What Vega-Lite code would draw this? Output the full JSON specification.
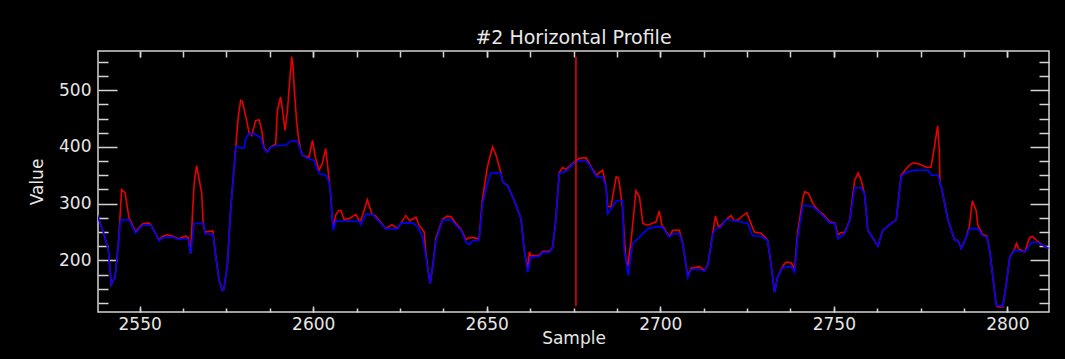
{
  "$schema": "https://vega.github.io/schema/vega-lite/v6.json",
  "width": 951,
  "height": 261,
  "autosize": {"type": "none"},
  "padding": {"left": 98, "top": 51, "right": 16, "bottom": 47},
  "background": "#000000",
  "title": {"text": "#2 Horizontal Profile", "frame": "group", "anchor": "middle", "offset": 2, "font": "DejaVu Sans", "fontSize": 19, "fontWeight": "normal", "color": "#e8e8e8"},
  "config": {
    "view": {"stroke": "#d4d4d4", "strokeWidth": 1.5},
    "axis": {"grid": false, "domain": false, "labelFont": "DejaVu Sans", "labelFontSize": 17, "labelColor": "#e6e6e6", "titleFont": "DejaVu Sans", "titleFontSize": 17, "titleFontWeight": "normal", "titleColor": "#e6e6e6", "tickColor": "#d4d4d4", "tickWidth": 1.5}
  },
  "datasets": {
    "red": [
      {"sample": 2537.8, "value": 280}, {"sample": 2539.7, "value": 247}, {"sample": 2541.0, "value": 218}, {"sample": 2541.8, "value": 157}, {"sample": 2542.9, "value": 170}, {"sample": 2543.5, "value": 206}, {"sample": 2544.0, "value": 240}, {"sample": 2544.8, "value": 325}, {"sample": 2545.8, "value": 319}, {"sample": 2546.9, "value": 276}, {"sample": 2548.8, "value": 250}, {"sample": 2550.8, "value": 264}, {"sample": 2552.5, "value": 266}, {"sample": 2553.2, "value": 263}, {"sample": 2554.6, "value": 247}, {"sample": 2555.6, "value": 236}, {"sample": 2556.5, "value": 242}, {"sample": 2558.0, "value": 245}, {"sample": 2559.4, "value": 243}, {"sample": 2561.3, "value": 238}, {"sample": 2563.3, "value": 243}, {"sample": 2564.0, "value": 240}, {"sample": 2564.7, "value": 212}, {"sample": 2565.2, "value": 280}, {"sample": 2565.7, "value": 335}, {"sample": 2566.4, "value": 367}, {"sample": 2567.9, "value": 318}, {"sample": 2568.3, "value": 265}, {"sample": 2568.8, "value": 250}, {"sample": 2571.1, "value": 252}, {"sample": 2571.7, "value": 218}, {"sample": 2572.9, "value": 165}, {"sample": 2573.8, "value": 147}, {"sample": 2574.3, "value": 149}, {"sample": 2575.3, "value": 194}, {"sample": 2576.2, "value": 288}, {"sample": 2577.7, "value": 400}, {"sample": 2578.4, "value": 453}, {"sample": 2579.1, "value": 482}, {"sample": 2579.6, "value": 480}, {"sample": 2580.6, "value": 453}, {"sample": 2581.5, "value": 426}, {"sample": 2582.3, "value": 420}, {"sample": 2583.4, "value": 446}, {"sample": 2584.4, "value": 448}, {"sample": 2585.2, "value": 429}, {"sample": 2585.8, "value": 400}, {"sample": 2586.8, "value": 391}, {"sample": 2587.8, "value": 400}, {"sample": 2589.2, "value": 405}, {"sample": 2589.7, "value": 465}, {"sample": 2590.6, "value": 488}, {"sample": 2591.1, "value": 468}, {"sample": 2591.9, "value": 429}, {"sample": 2592.6, "value": 465}, {"sample": 2593.1, "value": 506}, {"sample": 2593.8, "value": 559}, {"sample": 2594.2, "value": 541}, {"sample": 2594.5, "value": 506}, {"sample": 2595.2, "value": 447}, {"sample": 2595.7, "value": 418}, {"sample": 2596.4, "value": 394}, {"sample": 2596.9, "value": 385}, {"sample": 2598.3, "value": 382}, {"sample": 2598.8, "value": 382}, {"sample": 2599.8, "value": 412}, {"sample": 2600.6, "value": 382}, {"sample": 2601.7, "value": 359}, {"sample": 2602.6, "value": 370}, {"sample": 2603.6, "value": 397}, {"sample": 2604.4, "value": 353}, {"sample": 2605.1, "value": 312}, {"sample": 2605.5, "value": 271}, {"sample": 2605.8, "value": 260}, {"sample": 2606.5, "value": 280}, {"sample": 2607.3, "value": 288}, {"sample": 2608.0, "value": 288}, {"sample": 2608.9, "value": 272}, {"sample": 2610.5, "value": 274}, {"sample": 2612.3, "value": 281}, {"sample": 2613.2, "value": 270}, {"sample": 2613.7, "value": 270}, {"sample": 2614.5, "value": 285}, {"sample": 2615.6, "value": 307}, {"sample": 2616.9, "value": 282}, {"sample": 2618.0, "value": 278}, {"sample": 2620.9, "value": 256}, {"sample": 2622.7, "value": 263}, {"sample": 2624.3, "value": 256}, {"sample": 2625.3, "value": 266}, {"sample": 2626.7, "value": 279}, {"sample": 2627.8, "value": 270}, {"sample": 2629.6, "value": 276}, {"sample": 2630.5, "value": 262}, {"sample": 2632.0, "value": 250}, {"sample": 2632.5, "value": 210}, {"sample": 2633.4, "value": 170}, {"sample": 2633.7, "value": 159}, {"sample": 2634.4, "value": 188}, {"sample": 2635.4, "value": 240}, {"sample": 2637.3, "value": 273}, {"sample": 2638.7, "value": 278}, {"sample": 2639.7, "value": 277}, {"sample": 2641.1, "value": 265}, {"sample": 2642.6, "value": 255}, {"sample": 2644.0, "value": 236}, {"sample": 2645.0, "value": 240}, {"sample": 2645.9, "value": 240}, {"sample": 2647.8, "value": 238}, {"sample": 2648.8, "value": 309}, {"sample": 2650.2, "value": 365}, {"sample": 2651.7, "value": 400}, {"sample": 2652.7, "value": 385}, {"sample": 2654.1, "value": 354}, {"sample": 2654.6, "value": 338}, {"sample": 2656.0, "value": 332}, {"sample": 2657.9, "value": 306}, {"sample": 2659.9, "value": 273}, {"sample": 2660.8, "value": 218}, {"sample": 2661.8, "value": 185}, {"sample": 2662.3, "value": 215}, {"sample": 2662.7, "value": 208}, {"sample": 2665.1, "value": 209}, {"sample": 2666.1, "value": 216}, {"sample": 2668.0, "value": 216}, {"sample": 2669.0, "value": 223}, {"sample": 2669.8, "value": 265}, {"sample": 2670.9, "value": 355}, {"sample": 2671.9, "value": 364}, {"sample": 2672.8, "value": 360}, {"sample": 2675.7, "value": 376}, {"sample": 2676.7, "value": 380}, {"sample": 2678.6, "value": 381}, {"sample": 2679.6, "value": 370}, {"sample": 2681.5, "value": 350}, {"sample": 2683.4, "value": 359}, {"sample": 2684.4, "value": 329}, {"sample": 2684.8, "value": 295}, {"sample": 2685.8, "value": 295}, {"sample": 2687.3, "value": 347}, {"sample": 2688.0, "value": 345}, {"sample": 2689.1, "value": 294}, {"sample": 2690.1, "value": 200}, {"sample": 2690.6, "value": 190}, {"sample": 2691.6, "value": 235}, {"sample": 2693.0, "value": 323}, {"sample": 2694.0, "value": 312}, {"sample": 2695.0, "value": 265}, {"sample": 2696.4, "value": 262}, {"sample": 2698.8, "value": 268}, {"sample": 2699.7, "value": 287}, {"sample": 2700.5, "value": 262}, {"sample": 2702.6, "value": 242}, {"sample": 2703.6, "value": 253}, {"sample": 2705.5, "value": 253}, {"sample": 2706.5, "value": 229}, {"sample": 2707.9, "value": 172}, {"sample": 2708.9, "value": 186}, {"sample": 2711.3, "value": 189}, {"sample": 2712.7, "value": 182}, {"sample": 2713.7, "value": 192}, {"sample": 2715.2, "value": 250}, {"sample": 2715.9, "value": 278}, {"sample": 2716.8, "value": 259}, {"sample": 2717.5, "value": 262}, {"sample": 2719.0, "value": 272}, {"sample": 2720.4, "value": 279}, {"sample": 2721.2, "value": 270}, {"sample": 2722.3, "value": 271}, {"sample": 2724.9, "value": 284}, {"sample": 2726.0, "value": 267}, {"sample": 2727.1, "value": 250}, {"sample": 2729.0, "value": 248}, {"sample": 2730.9, "value": 236}, {"sample": 2731.9, "value": 194}, {"sample": 2732.9, "value": 144}, {"sample": 2733.8, "value": 170}, {"sample": 2735.3, "value": 190}, {"sample": 2736.3, "value": 197}, {"sample": 2737.7, "value": 196}, {"sample": 2738.7, "value": 185}, {"sample": 2739.6, "value": 250}, {"sample": 2741.1, "value": 310}, {"sample": 2741.6, "value": 321}, {"sample": 2742.7, "value": 318}, {"sample": 2744.0, "value": 300}, {"sample": 2745.9, "value": 285}, {"sample": 2746.8, "value": 282}, {"sample": 2748.8, "value": 268}, {"sample": 2750.3, "value": 266}, {"sample": 2751.2, "value": 245}, {"sample": 2752.1, "value": 249}, {"sample": 2753.1, "value": 249}, {"sample": 2754.6, "value": 271}, {"sample": 2756.0, "value": 341}, {"sample": 2757.0, "value": 354}, {"sample": 2757.9, "value": 341}, {"sample": 2758.9, "value": 315}, {"sample": 2759.8, "value": 253}, {"sample": 2762.7, "value": 225}, {"sample": 2764.1, "value": 253}, {"sample": 2766.6, "value": 265}, {"sample": 2768.0, "value": 272}, {"sample": 2769.4, "value": 350}, {"sample": 2770.4, "value": 358}, {"sample": 2771.8, "value": 368}, {"sample": 2773.0, "value": 372}, {"sample": 2775.0, "value": 369}, {"sample": 2776.6, "value": 364}, {"sample": 2778.0, "value": 364}, {"sample": 2779.0, "value": 400}, {"sample": 2779.9, "value": 437}, {"sample": 2780.4, "value": 394}, {"sample": 2780.6, "value": 335}, {"sample": 2781.0, "value": 329}, {"sample": 2782.9, "value": 271}, {"sample": 2784.8, "value": 236}, {"sample": 2785.7, "value": 235}, {"sample": 2786.7, "value": 221}, {"sample": 2788.2, "value": 241}, {"sample": 2789.1, "value": 262}, {"sample": 2789.9, "value": 305}, {"sample": 2791.0, "value": 288}, {"sample": 2791.5, "value": 262}, {"sample": 2792.8, "value": 246}, {"sample": 2794.1, "value": 243}, {"sample": 2794.9, "value": 218}, {"sample": 2796.8, "value": 121}, {"sample": 2797.3, "value": 118}, {"sample": 2798.7, "value": 118}, {"sample": 2799.7, "value": 159}, {"sample": 2800.7, "value": 206}, {"sample": 2802.1, "value": 220}, {"sample": 2802.6, "value": 230}, {"sample": 2803.3, "value": 220}, {"sample": 2805.0, "value": 215}, {"sample": 2806.4, "value": 240}, {"sample": 2807.2, "value": 242}, {"sample": 2808.5, "value": 235}, {"sample": 2809.9, "value": 228}, {"sample": 2811.8, "value": 221}
    ],
    "blue": [
      {"sample": 2537.8, "value": 280}, {"sample": 2539.7, "value": 247}, {"sample": 2541.0, "value": 218}, {"sample": 2541.8, "value": 157}, {"sample": 2542.9, "value": 170}, {"sample": 2543.5, "value": 206}, {"sample": 2544.5, "value": 271}, {"sample": 2546.9, "value": 272}, {"sample": 2548.8, "value": 248}, {"sample": 2550.8, "value": 262}, {"sample": 2553.2, "value": 262}, {"sample": 2554.6, "value": 247}, {"sample": 2555.6, "value": 234}, {"sample": 2556.5, "value": 240}, {"sample": 2559.4, "value": 241}, {"sample": 2561.3, "value": 237}, {"sample": 2563.3, "value": 239}, {"sample": 2564.0, "value": 236}, {"sample": 2564.7, "value": 212}, {"sample": 2565.7, "value": 265}, {"sample": 2568.5, "value": 265}, {"sample": 2568.8, "value": 247}, {"sample": 2571.1, "value": 246}, {"sample": 2571.7, "value": 218}, {"sample": 2572.9, "value": 165}, {"sample": 2573.8, "value": 147}, {"sample": 2574.3, "value": 149}, {"sample": 2575.3, "value": 194}, {"sample": 2576.2, "value": 288}, {"sample": 2577.7, "value": 400}, {"sample": 2580.1, "value": 398}, {"sample": 2580.6, "value": 415}, {"sample": 2581.5, "value": 423}, {"sample": 2583.0, "value": 423}, {"sample": 2584.9, "value": 416}, {"sample": 2585.8, "value": 397}, {"sample": 2586.8, "value": 391}, {"sample": 2587.8, "value": 400}, {"sample": 2589.2, "value": 402}, {"sample": 2592.1, "value": 403}, {"sample": 2593.5, "value": 410}, {"sample": 2595.4, "value": 410}, {"sample": 2596.4, "value": 394}, {"sample": 2596.9, "value": 385}, {"sample": 2598.3, "value": 380}, {"sample": 2600.3, "value": 376}, {"sample": 2600.8, "value": 365}, {"sample": 2601.7, "value": 353}, {"sample": 2603.6, "value": 350}, {"sample": 2604.6, "value": 338}, {"sample": 2605.1, "value": 312}, {"sample": 2605.5, "value": 271}, {"sample": 2605.8, "value": 253}, {"sample": 2606.5, "value": 269}, {"sample": 2613.2, "value": 269}, {"sample": 2613.7, "value": 263}, {"sample": 2615.3, "value": 282}, {"sample": 2617.1, "value": 281}, {"sample": 2620.9, "value": 256}, {"sample": 2624.3, "value": 256}, {"sample": 2625.3, "value": 266}, {"sample": 2628.6, "value": 266}, {"sample": 2630.1, "value": 259}, {"sample": 2631.5, "value": 241}, {"sample": 2632.5, "value": 206}, {"sample": 2633.4, "value": 170}, {"sample": 2633.7, "value": 159}, {"sample": 2634.4, "value": 188}, {"sample": 2635.4, "value": 235}, {"sample": 2637.3, "value": 271}, {"sample": 2639.7, "value": 272}, {"sample": 2641.1, "value": 262}, {"sample": 2642.6, "value": 253}, {"sample": 2644.0, "value": 232}, {"sample": 2645.0, "value": 228}, {"sample": 2645.9, "value": 234}, {"sample": 2647.8, "value": 236}, {"sample": 2648.8, "value": 300}, {"sample": 2650.2, "value": 335}, {"sample": 2651.2, "value": 354}, {"sample": 2654.1, "value": 354}, {"sample": 2654.6, "value": 338}, {"sample": 2656.0, "value": 332}, {"sample": 2657.9, "value": 306}, {"sample": 2659.9, "value": 273}, {"sample": 2660.8, "value": 218}, {"sample": 2661.8, "value": 179}, {"sample": 2662.7, "value": 206}, {"sample": 2665.1, "value": 207}, {"sample": 2666.1, "value": 214}, {"sample": 2668.0, "value": 214}, {"sample": 2669.0, "value": 223}, {"sample": 2669.8, "value": 265}, {"sample": 2670.9, "value": 353}, {"sample": 2672.8, "value": 357}, {"sample": 2675.7, "value": 375}, {"sample": 2678.6, "value": 375}, {"sample": 2679.6, "value": 368}, {"sample": 2681.5, "value": 348}, {"sample": 2683.4, "value": 347}, {"sample": 2684.4, "value": 329}, {"sample": 2684.8, "value": 282}, {"sample": 2685.8, "value": 291}, {"sample": 2687.3, "value": 305}, {"sample": 2689.1, "value": 305}, {"sample": 2689.6, "value": 218}, {"sample": 2690.8, "value": 173}, {"sample": 2692.0, "value": 229}, {"sample": 2694.0, "value": 241}, {"sample": 2696.4, "value": 256}, {"sample": 2698.8, "value": 259}, {"sample": 2700.5, "value": 259}, {"sample": 2702.6, "value": 241}, {"sample": 2703.6, "value": 247}, {"sample": 2705.5, "value": 247}, {"sample": 2706.5, "value": 229}, {"sample": 2707.9, "value": 170}, {"sample": 2708.9, "value": 184}, {"sample": 2711.3, "value": 184}, {"sample": 2712.7, "value": 181}, {"sample": 2713.7, "value": 191}, {"sample": 2715.2, "value": 247}, {"sample": 2716.1, "value": 256}, {"sample": 2717.5, "value": 259}, {"sample": 2719.0, "value": 272}, {"sample": 2722.3, "value": 269}, {"sample": 2725.2, "value": 265}, {"sample": 2726.6, "value": 243}, {"sample": 2729.0, "value": 243}, {"sample": 2730.9, "value": 235}, {"sample": 2731.9, "value": 194}, {"sample": 2732.9, "value": 144}, {"sample": 2733.8, "value": 170}, {"sample": 2735.3, "value": 188}, {"sample": 2737.7, "value": 189}, {"sample": 2738.7, "value": 179}, {"sample": 2739.6, "value": 241}, {"sample": 2741.1, "value": 297}, {"sample": 2744.0, "value": 295}, {"sample": 2746.8, "value": 279}, {"sample": 2748.8, "value": 266}, {"sample": 2750.3, "value": 265}, {"sample": 2751.2, "value": 238}, {"sample": 2753.1, "value": 247}, {"sample": 2754.6, "value": 270}, {"sample": 2756.0, "value": 328}, {"sample": 2757.9, "value": 328}, {"sample": 2758.9, "value": 316}, {"sample": 2759.8, "value": 253}, {"sample": 2762.7, "value": 225}, {"sample": 2764.1, "value": 253}, {"sample": 2766.6, "value": 265}, {"sample": 2768.0, "value": 272}, {"sample": 2769.4, "value": 347}, {"sample": 2770.4, "value": 354}, {"sample": 2773.3, "value": 359}, {"sample": 2777.1, "value": 359}, {"sample": 2778.1, "value": 350}, {"sample": 2780.0, "value": 350}, {"sample": 2781.0, "value": 329}, {"sample": 2782.9, "value": 271}, {"sample": 2784.8, "value": 236}, {"sample": 2785.7, "value": 235}, {"sample": 2786.7, "value": 221}, {"sample": 2788.2, "value": 241}, {"sample": 2789.1, "value": 256}, {"sample": 2791.5, "value": 256}, {"sample": 2792.8, "value": 244}, {"sample": 2794.1, "value": 241}, {"sample": 2794.9, "value": 218}, {"sample": 2796.8, "value": 121}, {"sample": 2798.7, "value": 119}, {"sample": 2799.7, "value": 159}, {"sample": 2800.7, "value": 206}, {"sample": 2802.1, "value": 218}, {"sample": 2804.0, "value": 216}, {"sample": 2805.0, "value": 215}, {"sample": 2807.0, "value": 232}, {"sample": 2808.5, "value": 232}, {"sample": 2809.9, "value": 228}, {"sample": 2811.8, "value": 221}
    ],
    "cursor": [{"sample": 2675.7, "lo": 119, "hi": 559}]
  },
  "layer": [
    {
      "data": {"name": "red"},
      "mark": {"type": "line", "color": "#e80000", "strokeWidth": 1.6, "clip": true},
      "encoding": {
        "x": {"field": "sample", "type": "quantitative", "scale": {"domain": [2538, 2812], "nice": false, "zero": false},
              "axis": {"orient": "bottom", "values": [2550, 2600, 2650, 2700, 2750, 2800], "format": "d", "ticks": false, "labelPadding": 4, "title": "Sample", "titlePadding": -2}},
        "y": {"field": "value", "type": "quantitative", "scale": {"domain": [109, 569], "nice": false, "zero": false},
              "axis": {"orient": "left", "values": [200, 300, 400, 500], "format": "d", "ticks": false, "labelPadding": 7, "title": "Value", "titlePadding": 12}}
      }
    },
    {
      "data": {"name": "blue"},
      "mark": {"type": "line", "color": "#0000ff", "strokeWidth": 1.6, "clip": true},
      "encoding": {
        "x": {"field": "sample", "type": "quantitative",
              "axis": {"orient": "top", "offset": -261, "values": [2550, 2562.5, 2575, 2587.5, 2600, 2612.5, 2625, 2637.5, 2650, 2662.5, 2675, 2687.5, 2700, 2712.5, 2725, 2737.5, 2750, 2762.5, 2775, 2787.5, 2800], "tickSize": 4, "labels": false, "title": null}},
        "y": {"field": "value", "type": "quantitative",
              "axis": {"orient": "right", "offset": -951, "values": [125, 150, 175, 225, 250, 275, 325, 350, 375, 425, 450, 475, 525, 550], "tickSize": 10, "labels": false, "title": null}}
      }
    },
    {
      "data": {"name": "cursor"},
      "mark": {"type": "rule", "color": "#e80000", "strokeWidth": 1.6},
      "encoding": {
        "x": {"field": "sample", "type": "quantitative",
              "axis": {"orient": "bottom", "offset": -261, "values": [2550, 2562.5, 2575, 2587.5, 2600, 2612.5, 2625, 2637.5, 2650, 2662.5, 2675, 2687.5, 2700, 2712.5, 2725, 2737.5, 2750, 2762.5, 2775, 2787.5, 2800], "tickSize": 6, "labels": false, "title": null}},
        "y": {"field": "lo", "type": "quantitative",
              "axis": {"orient": "left", "offset": -951, "values": [125, 150, 175, 225, 250, 275, 325, 350, 375, 425, 450, 475, 525, 550], "tickSize": 10, "labels": false, "title": null}},
        "y2": {"field": "hi"}
      }
    },
    {
      "data": {"name": "cursor"},
      "mark": {"type": "point", "opacity": 0},
      "encoding": {
        "x": {"field": "sample", "type": "quantitative",
              "axis": {"orient": "top", "offset": -261, "values": [2550, 2600, 2650, 2700, 2750, 2800], "tickSize": 6, "labels": false, "title": null}},
        "y": {"field": "lo", "type": "quantitative",
              "axis": {"orient": "right", "offset": -951, "values": [200, 300, 400, 500], "tickSize": 19, "labels": false, "title": null}}
      }
    },
    {
      "data": {"name": "cursor"},
      "mark": {"type": "point", "opacity": 0},
      "encoding": {
        "x": {"field": "sample", "type": "quantitative",
              "axis": {"orient": "bottom", "offset": -261, "values": [2550, 2600, 2650, 2700, 2750, 2800], "tickSize": 6, "labels": false, "title": null}},
        "y": {"field": "hi", "type": "quantitative",
              "axis": {"orient": "left", "offset": -951, "values": [200, 300, 400, 500], "tickSize": 19, "labels": false, "title": null}}
      }
    }
  ],
  "resolve": {"scale": {"x": "shared", "y": "shared"}, "axis": {"x": "independent", "y": "independent"}}
}
